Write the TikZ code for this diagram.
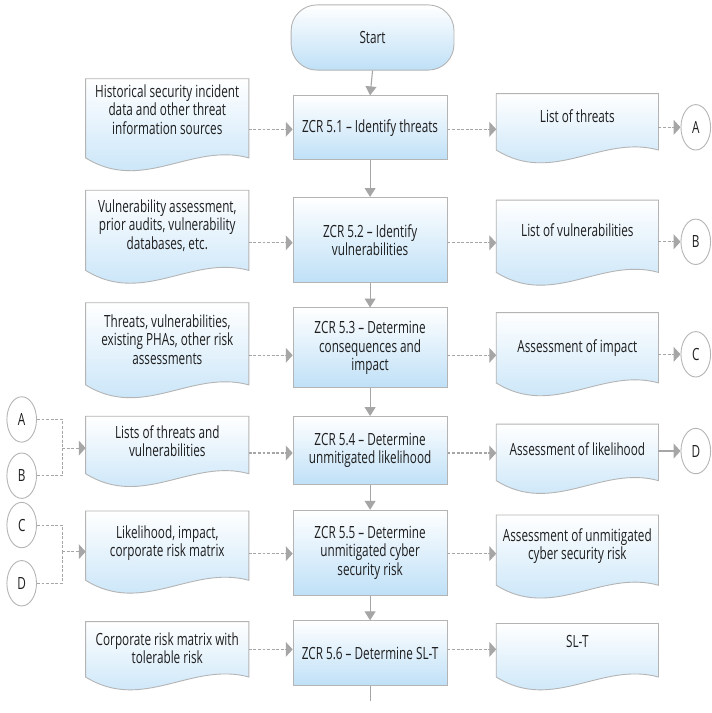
\documentclass[tikz,border=0pt]{standalone}
\usepackage{fontspec}
\setmainfont{Open Sans}[FakeStretch=0.70]
\usetikzlibrary{arrows.meta,calc,shapes.geometric}

\definecolor{edge}{HTML}{B4B4B4}
\definecolor{wire}{HTML}{A6A6A6}
\definecolor{skyfill}{HTML}{BFE0F7}
\definecolor{ink}{HTML}{1E1E1E}

\pgfdeclarelayer{back}
\pgfsetlayers{back,main}

% document symbol: flat top, wavy bottom ending at absolute y = #2
\newcommand\docoutline[2]{%
  \path[docfill] (#1.north west) -- (#1.north east) -- (#1.east |- 0,#2)
    .. controls ($(#1.west |- 0,#2)!0.65!(#1.east |- 0,#2)+(0,-16)$)
           and ($(#1.west |- 0,#2)!0.35!(#1.east |- 0,#2)+(0,36)$)
    .. (#1.west |- 0,#2) -- cycle;}

\begin{document}
\begin{tikzpicture}[x=1pt,y=-1pt,
  font=\fontsize{17}{18.5}\selectfont, text=ink,
  stepbox/.style={draw=edge, line width=0.9pt, top color=white, bottom color=skyfill,
    minimum width=156pt, align=center, inner sep=3pt},
  docnode/.style={minimum width=165pt, align=center, inner sep=2pt},
  outdoc/.style={minimum width=164pt, align=center, inner sep=2pt},
  docfill/.style={draw=edge, line width=0.9pt, top color=white, bottom color=skyfill},
  tag/.style={ellipse, draw=edge, line width=0.9pt, fill=white,
    minimum width=30pt, minimum height=46pt, inner sep=0pt},
  down/.style={draw=wire, line width=1.1pt, -{Triangle[length=9pt,width=11pt]}},
  feed/.style={draw=wire, line width=1.1pt, dash pattern=on 3pt off 1.6pt,
    -{Triangle[length=7pt,width=15pt]}},
  solidfeed/.style={draw=wire, line width=1.1pt, -{Triangle[length=7pt,width=15pt]}},
  link/.style={draw=wire, line width=1pt, dash pattern=on 3pt off 1.6pt},
]
\begin{pgfonlayer}{back}
  \path[fill=white, use as bounding box] (0,0) rectangle (713,702);
\end{pgfonlayer}

% main process column
\node[stepbox, rounded corners=26pt, minimum width=165pt, minimum height=66pt] (start) at (377.5,38) {Start};
\node[stepbox, minimum height=65pt] (p1) at (375,129.5) {ZCR 5.1 – Identify threats};
\node[stepbox, minimum height=86pt] (p2) at (375,243) {ZCR 5.2 – Identify\\vulnerabilities};
\node[stepbox, minimum height=81pt] (p3) at (375,352.5) {ZCR 5.3 – Determine\\consequences and\\impact};
\node[stepbox, minimum height=69pt] (p4) at (375,456.5) {ZCR 5.4 – Determine\\unmitigated likelihood};
\node[stepbox, minimum height=86pt] (p5) at (375,560) {ZCR 5.5 – Determine\\unmitigated cyber\\security risk};
\node[stepbox, minimum height=66pt] (p6) at (375,662) {ZCR 5.6 – Determine SL-T};
\coordinate (tail) at (375,710);

% input documents
\node[docnode, minimum height=62pt] (l1) at (169.5,111) {Historical security incident\\data and other threat\\information sources};
\node[docnode, minimum height=71pt] (l2) at (169.5,228.5) {Vulnerability assessment,\\prior audits, vulnerability\\databases, etc.};
\node[docnode, minimum height=74pt] (l3) at (169.5,344) {Threats, vulnerabilities,\\existing PHAs, other risk\\assessments};
\node[docnode, minimum height=50pt] (l4) at (169.5,447) {Lists of threats and\\vulnerabilities};
\node[docnode, minimum height=64pt] (l5) at (169.5,550) {Likelihood, impact,\\corporate risk matrix};
\node[docnode, minimum height=53pt] (l6) at (169.5,656.5) {Corporate risk matrix with\\tolerable risk};

% output documents
\node[outdoc, minimum height=46pt] (r1) at (585,118) {List of threats};
\node[outdoc, minimum height=60pt] (r2) at (585,233) {List of vulnerabilities};
\node[outdoc, minimum height=72pt] (r3) at (585,353) {Assessment of impact};
\node[outdoc, minimum height=50pt] (r4) at (585,455) {Assessment of likelihood};
\node[outdoc, minimum height=62pt] (r5) at (585,553) {Assessment of unmitigated\\cyber security risk};
\node[outdoc, minimum height=36pt] (r6) at (585,650) {SL-T};

\begin{pgfonlayer}{back}
  \docoutline{l1}{160}
  \docoutline{l2}{274}
  \docoutline{l3}{390}
  \docoutline{l4}{480}
  \docoutline{l5}{588}
  \docoutline{l6}{686}
  \docoutline{r1}{152}
  \docoutline{r2}{276}
  \docoutline{r3}{388}
  \docoutline{r4}{487}
  \docoutline{r5}{593}
  \docoutline{r6}{686}
\end{pgfonlayer}

% off-page connectors
\node[tag] (outA) at (705,129) {A};
\node[tag] (outB) at (705,245) {B};
\node[tag] (outC) at (705,359) {C};
\node[tag] (outD) at (705,457) {D};
\node[tag] (inA) at (22,425) {A};
\node[tag] (inB) at (22,482) {B};
\node[tag] (inC) at (22,532) {C};
\node[tag] (inD) at (22,591) {D};

% row levels of the horizontal flows
\coordinate (y1) at (0,131);
\coordinate (y2) at (0,246);
\coordinate (y3) at (0,360);
\coordinate (y4) at (0,459);
\coordinate (y5) at (0,561);
\coordinate (y6) at (0,658);
\coordinate (jAB) at (63,454);
\coordinate (jCD) at (63,559);

% vertical sequence
\draw[down] (start.south) -- (p1.north);
\draw[down] (p1.south) -- (p2.north);
\draw[down] (p2.south) -- (p3.north);
\draw[down] (p3.south) -- (p4.north);
\draw[down] (p4.south) -- (p5.north);
\draw[down] (p5.south) -- (p6.north);
\draw[draw=wire, line width=1.1pt] (p6.south) -- (tail);

% inputs into steps
\foreach \k in {1,...,6} {
  \draw[feed] (l\k.east |- y\k) -- (p\k.west |- y\k);
  \draw[feed] (p\k.east |- y\k) -- (r\k.west |- y\k);
}

% outputs to connectors
\draw[feed] (r1.east |- outA) -- (outA.west);
\draw[feed] (r2.east |- outB) -- (outB.west);
\draw[feed] (r3.east |- outC) -- (outC.west);
\draw[solidfeed] (r4.east |- outD) -- (outD.west);

% connectors merging into inputs
\draw[link] (inA.east) -| (jAB);
\draw[link] (inB.east) -| (jAB);
\draw[feed] (jAB) -- (l4.west |- jAB);
\draw[link] (inC.east) -| (jCD);
\draw[link] (inD.east) -| (jCD);
\draw[feed] (jCD) -- (l5.west |- jCD);
\end{tikzpicture}
\end{document}
